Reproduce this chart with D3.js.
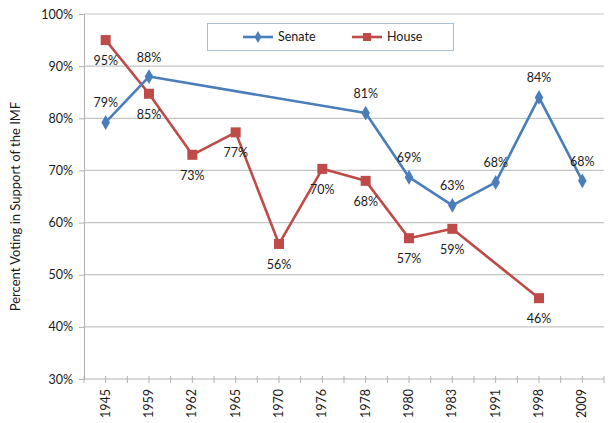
<!DOCTYPE html>
<html>
<head>
<meta charset="utf-8">
<script src="https://cdn.jsdelivr.net/npm/d3@7"></script>
<style>
  body { margin: 0; background: #fff; }
  text { font-family: Lato, "Open Sans", sans-serif; fill: #1a1a1a; }
</style>
</head>
<body>
<script>
// categories (vote years)
let years = ["1945", "1959", "1962", "1965", "1970", "1976", "1978", "1980", "1983", "1991", "1998", "2009"];

// percent voting in support, null = no vote that year
let senate = [79.2, 88, null, null, null, null, 81, 68.7, 63.3, 67.7, 84, 68];
let house = [95, 84.7, 73, 77.3, 55.9, 70.3, 68, 57, 58.8, null, 45.5, null];

let senateLabels = ["79%", "88%", null, null, null, null, "81%", "69%", "63%", "68%", "84%", "68%"];
let houseLabels = ["95%", "85%", "73%", "77%", "56%", "70%", "68%", "57%", "59%", null, "46%", null];

let yTicks = [30, 40, 50, 60, 70, 80, 90, 100];

let width = 608,
    height = 423,
    margin = {top: 14, right: 4, bottom: 44, left: 84};

let svg = d3.select("body").append("svg")
    .attr("width", width)
    .attr("height", height);

let x = d3.scaleBand()
    .domain(years)
    .range([margin.left, width - margin.right]);

let y = d3.scaleLinear()
    .domain([30, 100])
    .range([height - margin.bottom, margin.top]);

// gridlines
svg.append("g")
  .selectAll("line")
  .data(yTicks.slice(1))
  .enter().append("line")
    .attr("x1", margin.left)
    .attr("x2", width - margin.right)
    .attr("y1", d => y(d))
    .attr("y2", d => y(d))
    .attr("stroke", "#c4c4c4")
    .attr("stroke-width", 1.2);

// y axis
let yAxis = svg.append("g")
    .attr("transform", "translate(" + margin.left + ",0)")
    .call(d3.axisLeft(y).tickValues(yTicks).tickFormat(d => d + "%").tickSize(5).tickPadding(6));
yAxis.select(".domain").attr("stroke", "#b0b0b0");
yAxis.selectAll(".tick line").attr("stroke", "#b0b0b0");
yAxis.selectAll("text").style("font-size", "12.5px").style("font-family", "Lato, sans-serif").attr("fill", "#1a1a1a");

// x axis : ticks at category centres and boundaries
let xg = svg.append("g")
    .attr("transform", "translate(0," + y(30) + ")");
xg.append("line")
    .attr("x1", margin.left)
    .attr("x2", width - margin.right)
    .attr("stroke", "#b0b0b0")
    .attr("stroke-width", 1.2);
let bw = x.bandwidth();
let tickPos = [];
years.forEach(function(d) { tickPos.push(x(d), x(d) + bw / 2); });
tickPos.push(x(years[years.length - 1]) + bw);
xg.selectAll(".tk")
  .data(tickPos)
  .enter().append("line")
    .attr("x1", d => d)
    .attr("x2", d => d)
    .attr("y1", -3)
    .attr("y2", 4)
    .attr("stroke", "#b0b0b0");
xg.selectAll(".lbl")
  .data(years)
  .enter().append("text")
    .attr("transform", d => "translate(" + (x(d) + bw / 2 + 4) + ",10)rotate(-90)")
    .attr("text-anchor", "end")
    .style("font-size", "12.5px")
    .text(d => d);

// y label
svg.append("text")
    .attr("transform", "translate(20," + (y(65) + 10) + ")rotate(-90)")
    .attr("text-anchor", "middle")
    .style("font-size", "13px")
    .text("Percent Voting in Support of the IMF");

let cx = i => x(years[i]) + bw / 2;

let line = d3.line()
    .defined(d => d.v !== null)
    .x(d => cx(d.i))
    .y(d => y(d.v));

function series(vals, labels, color, symbol, size, dyLabel, cls) {
  let pts = vals.map((v, i) => ({v: v, i: i, l: labels[i]})).filter(d => d.v !== null);
  svg.append("path")
      .datum(pts)
      .attr("fill", "none")
      .attr("stroke", color)
      .attr("stroke-width", 2.6)
      .attr("stroke-linejoin", "round")
      .attr("d", line);
  svg.selectAll("." + cls)
    .data(pts)
    .enter().append("path")
      .attr("class", cls)
      .attr("transform", d => "translate(" + cx(d.i) + "," + y(d.v) + ")")
      .attr("d", d3.symbol().type(symbol).size(size))
      .attr("fill", color);
  svg.selectAll("." + cls + "l")
    .data(pts)
    .enter().append("text")
      .attr("x", d => cx(d.i))
      .attr("y", d => y(d.v) + dyLabel)
      .attr("text-anchor", "middle")
      .style("font-size", "12.5px")
      .text(d => d.l);
}

series(house, houseLabels, "#be4b48", d3.symbolSquare, 100, 25, "hs");
series(senate, senateLabels, "#4a7ebb", d3.symbolDiamond, 64, -15, "sn");

// legend
let lg = svg.append("g");
lg.append("rect")
    .attr("x", 207.5)
    .attr("y", 23.5)
    .attr("width", 246)
    .attr("height", 27)
    .attr("fill", "#fff")
    .attr("stroke", "#a9bfdc");
let legendItems = [
  {name: "Senate", color: "#4a7ebb", sym: d3.symbolDiamond, size: 40, x: 243},
  {name: "House", color: "#be4b48", sym: d3.symbolSquare, size: 64, x: 352}
];
legendItems.forEach(function(d) {
  lg.append("line")
      .attr("x1", d.x).attr("x2", d.x + 30)
      .attr("y1", 37).attr("y2", 37)
      .attr("stroke", d.color).attr("stroke-width", 2.6);
  lg.append("path")
      .attr("transform", "translate(" + (d.x + 15) + ",37)")
      .attr("d", d3.symbol().type(d.sym).size(d.size))
      .attr("fill", d.color);
  lg.append("text")
      .attr("x", d.x + 35)
      .attr("y", 41)
      .style("font-size", "12.5px")
      .text(d.name);
});
</script>
</body>
</html>
